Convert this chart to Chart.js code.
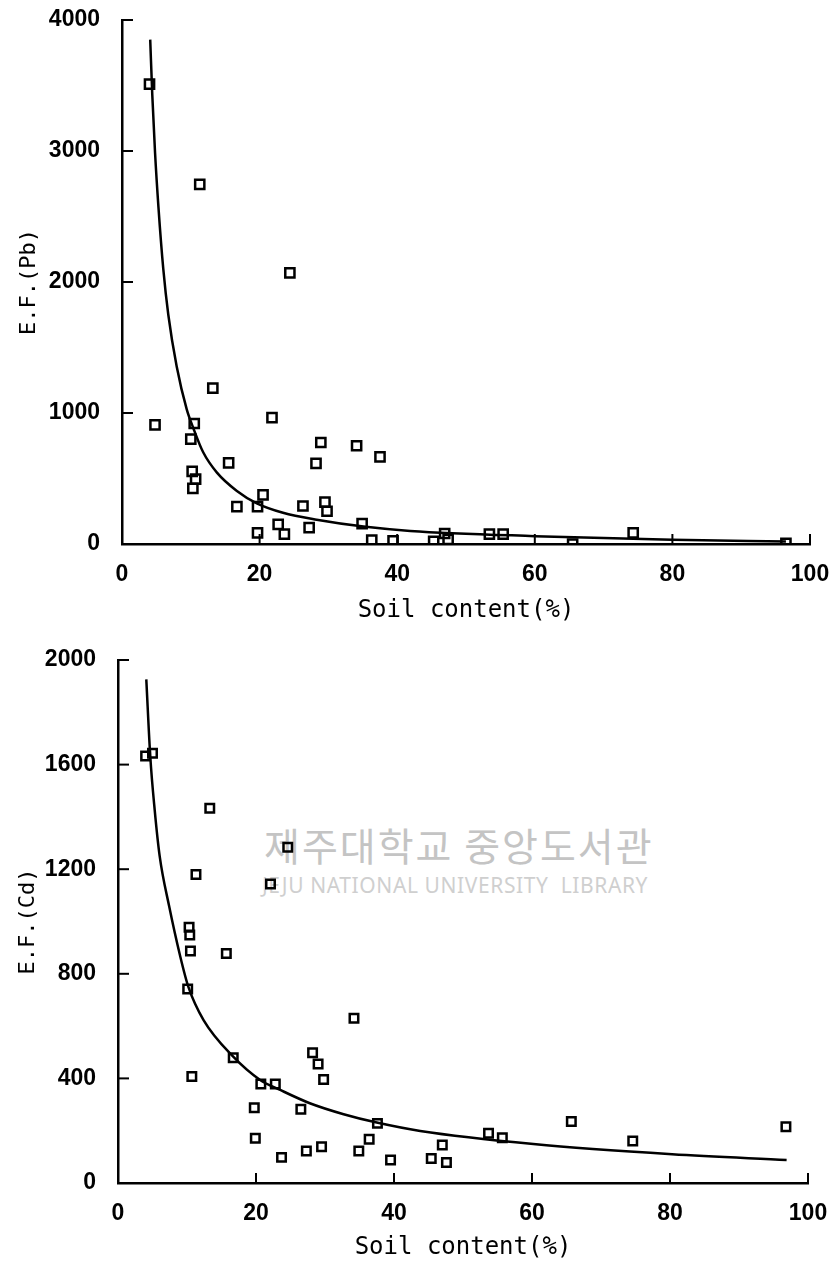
<!DOCTYPE html>
<html>
<head>
<meta charset="utf-8">
<script src="https://cdn.jsdelivr.net/npm/chart.js@4"></script>
<style>
  body { margin: 0; background: #fff; width: 833px; height: 1270px; overflow: hidden; position: relative; }
  canvas { position: absolute; left: 0; z-index: 2; }
  #c1 { top: 0; }
  #c2 { top: 635px; }
  .wm { position: absolute; z-index: 1; color: #c4c4c4; white-space: nowrap; }
  #wmKo { left: 264px; top: 816px; font: 39px "Noto Sans CJK KR", sans-serif; letter-spacing: 2px; }
  #wmEn { left: 262px; top: 871px; font: 21px "Noto Sans", sans-serif; letter-spacing: 0.6px; color: #cfcfcf; }
</style>
</head>
<body>
<div class="wm" id="wmKo">제주대학교 중앙도서관</div>
<div class="wm" id="wmEn">JEJU NATIONAL UNIVERSITY&nbsp;&nbsp;LIBRARY</div>
<canvas id="c1" width="833" height="635"></canvas>
<canvas id="c2" width="833" height="635"></canvas>
<script>
// datos
const soilPb = [4.0, 11.3, 24.4, 4.8, 13.2, 10.5, 10.0, 21.8, 28.9, 28.2, 34.1, 37.5, 15.5, 10.2, 10.7, 10.3, 16.7, 19.7, 20.5, 19.7, 22.7, 23.6, 26.3, 27.2, 29.5, 29.8, 34.9, 36.3, 39.4, 45.3, 46.9, 47.4, 53.4, 55.4, 65.5, 74.3, 96.5];
const efPb = [3510, 2745, 2070, 910, 1190, 920, 800, 965, 775, 615, 750, 665, 620, 555, 495, 425, 285, 285, 375, 85, 150, 75, 290, 125, 320, 250, 155, 30, 25, 20, 80, 35, 75, 75, 0, 85, 5];

const soilCd = [4.0, 5.0, 13.3, 24.6, 11.3, 22.1, 10.3, 10.4, 10.5, 15.7, 10.1, 10.7, 16.7, 20.7, 22.8, 19.75, 19.9, 23.7, 26.5, 27.3, 28.2, 29.0, 29.8, 29.5, 34.2, 37.6, 36.4, 34.9, 39.5, 45.4, 47.0, 47.6, 53.7, 55.7, 65.7, 74.6, 96.8];
const efCd = [1633, 1643, 1433, 1284, 1180, 1143, 978, 948, 887, 878, 742, 407, 479, 379, 379, 288, 171, 98, 282, 122, 498, 455, 396, 139, 630, 228, 167, 122, 88, 94, 145, 78, 190, 173, 235, 161, 215];

// curvas de tendencia (puntos leidos sobre la linea)
const fitSoilPb = [4.1, 4.4, 4.8, 5.3, 6.0, 6.73, 7.95, 9.4, 10.4, 11.8, 13.8, 16.7, 19.6, 23.4, 28.3, 35.1, 41.9, 60, 80, 96.5];
const fitPb = [3850, 3430, 2990, 2570, 2100, 1750, 1355, 1030, 880, 700, 545, 405, 310, 238, 185, 133, 100, 60, 32, 20];

const fitSoilCd = [4.1, 4.68, 5.32, 6.04, 7.4, 8.99, 10.2, 12.4, 16.7, 20.6, 23.5, 27.8, 32.7, 37.5, 43.8, 60.2, 80.3, 96.9];
const fitCd = [1926, 1630, 1426, 1250, 1060, 870, 750, 623, 483, 394, 356, 305, 263, 231, 199, 149, 110, 88];

const xTicks = [0, 20, 40, 60, 80, 100];

const toPoints = (xs, ys) => xs.map((x, i) => ({ x: x, y: ys[i] }));

// marcas de escala hacia adentro
const inwardTicks = {
  id: 'inwardTicks',
  afterDatasetsDraw(chart) {
    const { ctx, chartArea, scales } = chart;
    ctx.save();
    ctx.strokeStyle = '#000';
    ctx.lineWidth = 2;
    scales.x.ticks.forEach(t => {
      if (t.value === scales.x.min) return;
      const px = scales.x.getPixelForValue(t.value);
      ctx.beginPath();
      ctx.moveTo(px, chartArea.bottom);
      ctx.lineTo(px, chartArea.bottom - 10);
      ctx.stroke();
    });
    scales.y.ticks.forEach(t => {
      if (t.value === scales.y.min) return;
      const py = scales.y.getPixelForValue(t.value);
      ctx.beginPath();
      ctx.moveTo(chartArea.left, py);
      ctx.lineTo(chartArea.left + 11, py);
      ctx.stroke();
    });
    ctx.restore();
  }
};

const tickFont = { family: '"Liberation Sans", Arial, sans-serif', size: 23, weight: 'bold' };
const titleFamily = '"DejaVu Sans Mono", "Liberation Mono", monospace';

// quitar el relleno automatico para fijar el area del grafico
function noPad(s) {
  s.paddingTop = 0; s.paddingBottom = 0; s.paddingLeft = 0; s.paddingRight = 0;
}

function makeChart(id, pts, fit, yMax, yStep, yTitle, opts) {
  return new Chart(document.getElementById(id), {
    type: 'scatter',
    data: {
      datasets: [{
        data: pts,
        pointStyle: 'rect',
        pointRadius: opts.radius,
        pointBackgroundColor: 'rgba(0,0,0,0)',
        pointBorderColor: '#000',
        pointBorderWidth: 2.5
      }, {
        data: fit,
        showLine: true,
        pointRadius: 0,
        borderColor: '#000',
        borderWidth: 2.5,
        cubicInterpolationMode: 'monotone'
      }]
    },
    options: {
      responsive: false,
      animation: false,
      layout: { padding: { left: 0, top: opts.top, right: opts.right, bottom: 0 } },
      plugins: { legend: { display: false }, tooltip: { enabled: false } },
      scales: {
        x: {
          type: 'linear',
          min: 0, max: 100,
          afterFit: s => { s.height = opts.xHeight; noPad(s); },
          afterBuildTicks: s => { s.ticks = xTicks.map(v => ({ value: v })); },
          grid: { display: false, drawTicks: false },
          border: { display: true, color: '#000', width: 2.5 },
          ticks: { color: '#000', font: tickFont, padding: 17, maxRotation: 0, callback: v => String(v) },
          title: {
            display: true, text: 'Soil content(%)', color: '#000',
            font: { family: titleFamily, size: 24 },
            padding: { top: 0, bottom: opts.xTitlePad }
          }
        },
        y: {
          min: 0, max: yMax,
          afterFit: s => { s.width = opts.yWidth; noPad(s); },
          grid: { display: false, drawTicks: false },
          border: { display: true, color: '#000', width: 2.5 },
          ticks: { color: '#000', font: tickFont, padding: 22, stepSize: yStep, callback: v => String(v) },
          title: {
            display: true, text: yTitle, color: '#000',
            font: { family: titleFamily, size: 22 },
            padding: { top: opts.yTitlePad, bottom: 0 }
          }
        }
      }
    },
    plugins: [inwardTicks]
  });
}

makeChart('c1', toPoints(soilPb, efPb), toPoints(fitSoilPb, fitPb), 4000, 1000, 'E.F.(Pb)',
  { radius: 6.5, top: 20, right: 23, xHeight: 91, yWidth: 122, xTitlePad: 10, yTitlePad: 16 });

makeChart('c2', toPoints(soilCd, efCd), toPoints(fitSoilCd, fitCd), 2000, 400, 'E.F.(Cd)',
  { radius: 6, top: 25, right: 25, xHeight: 87, yWidth: 118, xTitlePad: 8, yTitlePad: 15 });
</script>
</body>
</html>
